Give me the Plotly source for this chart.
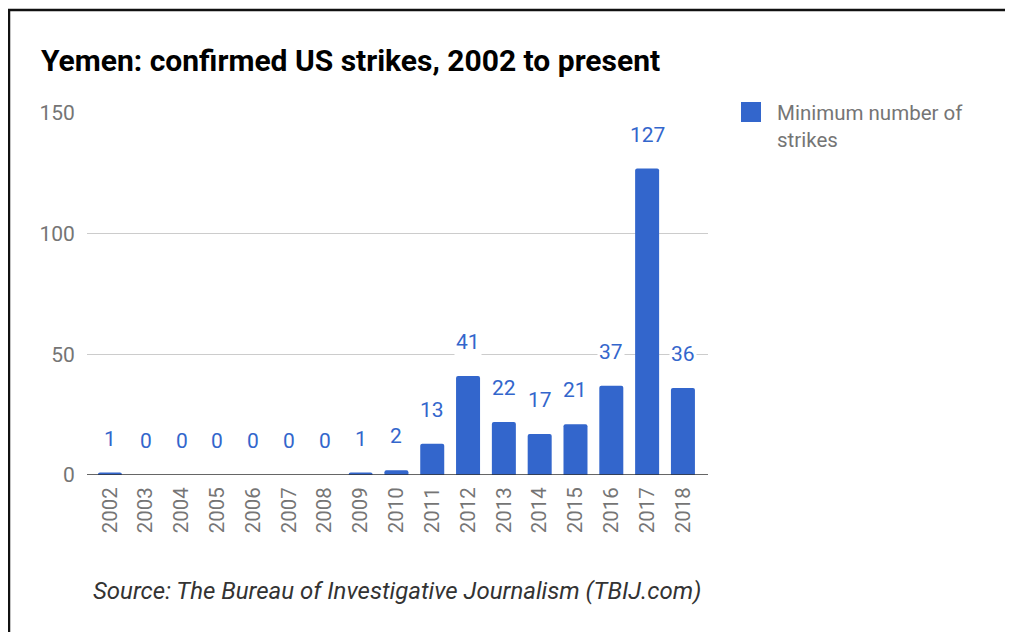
import plotly.graph_objects as go

years = ["2002", "2003", "2004", "2005", "2006", "2007", "2008", "2009", "2010",
         "2011", "2012", "2013", "2014", "2015", "2016", "2017", "2018"]
strikes = [1, 0, 0, 0, 0, 0, 0, 1, 2, 13, 41, 22, 17, 21, 37, 127, 36]
y_ticks = [0, 50, 100, 150]

title_text = "Yemen: confirmed US strikes, 2002 to present"
series_name = "Minimum number of<br>strikes"
source_text = "Source: The Bureau of Investigative Journalism (TBIJ.com)"

BLUE = "#3366cc"
OFF = 8  # page body margin
W, H = 1013 - OFF, 632 - OFF
# plot area in screen pixels
SL, SR, ST, SB = 87, 708, 113, 475
L, R, T, B = SL - OFF, SR - OFF, ST - OFF, SB - OFF

fig = go.Figure()
fig.add_trace(go.Bar(
    x=list(range(len(years))), y=strikes, width=0.67,
    marker=dict(color=BLUE, cornerradius=2, line=dict(width=0)),
    showlegend=False, hoverinfo="skip",
))

for i, v in enumerate(strikes):
    fig.add_annotation(x=i, y=v, xref="x", yref="y", text=str(v), showarrow=False,
                       yanchor="middle", yshift=34, bgcolor="white", borderpad=1,
                       font=dict(family="Roboto", size=21, color=BLUE))

def px_x(p):  # screen px -> paper
    return (p - SL) / (SR - SL)

def px_y(p):
    return (SB - p) / (SB - ST)

# title
fig.add_annotation(xref="paper", yref="paper", x=px_x(39), y=px_y(61), xanchor="left", yanchor="middle",
                   text="<b>" + title_text + "</b>", showarrow=False,
                   font=dict(family="Roboto", size=30, color="#000000"))
# source
fig.add_annotation(xref="paper", yref="paper", x=px_x(91), y=px_y(591), xanchor="left", yanchor="middle",
                   text="<i>" + source_text + "</i>", showarrow=False,
                   font=dict(family="Roboto", size=24, color="#333333"))
# legend
fig.add_shape(type="rect", xref="paper", yref="paper", x0=px_x(741), x1=px_x(761), y0=px_y(122), y1=px_y(102),
              fillcolor=BLUE, line=dict(width=0), layer="above")
fig.add_annotation(xref="paper", yref="paper", x=px_x(775), y=px_y(99), xanchor="left", yanchor="top",
                   text=series_name, showarrow=False, align="left",
                   font=dict(family="Roboto", size=20.5, color="#757575"))

# border lines (left and top)
fig.add_shape(type="line", xref="paper", yref="paper", x0=px_x(9), x1=px_x(9), y0=px_y(9), y1=px_y(700),
              line=dict(color="#111111", width=2.5), layer="above")
fig.add_shape(type="line", xref="paper", yref="paper", x0=px_x(8), x1=px_x(1030), y0=px_y(10), y1=px_y(10),
              line=dict(color="#111111", width=2.5), layer="above")
# baseline
fig.add_shape(type="line", xref="paper", yref="y", x0=0, x1=1, y0=0, y1=0,
              line=dict(color="#333333", width=1.5), layer="above")

fig.update_layout(
    width=W, height=H,
    margin=dict(l=L, r=W - R, t=T, b=H - B, pad=0),
    paper_bgcolor="white", plot_bgcolor="white",
    font=dict(family="Roboto", color="#757575"),
    xaxis=dict(
        range=[-0.64, 16.7], tickmode="array", tickvals=list(range(len(years))), ticktext=years,
        tickangle=-90, tickfont=dict(size=20.5, color="#757575"), showgrid=False, zeroline=False,
        showline=False, ticks="outside", ticklen=3, tickcolor="rgba(0,0,0,0)", fixedrange=True,
    ),
    yaxis=dict(
        range=[0, 150], tickmode="array", tickvals=y_ticks, ticktext=[str(t) for t in y_ticks],
        tickfont=dict(size=21, color="#757575"), showgrid=True, gridcolor="#cccccc", gridwidth=1,
        zeroline=False, showline=False, ticks="outside", ticklen=7, tickcolor="rgba(0,0,0,0)",
        fixedrange=True,
    ),
    bargap=0.33,
)

fig.write_html("out.html")
